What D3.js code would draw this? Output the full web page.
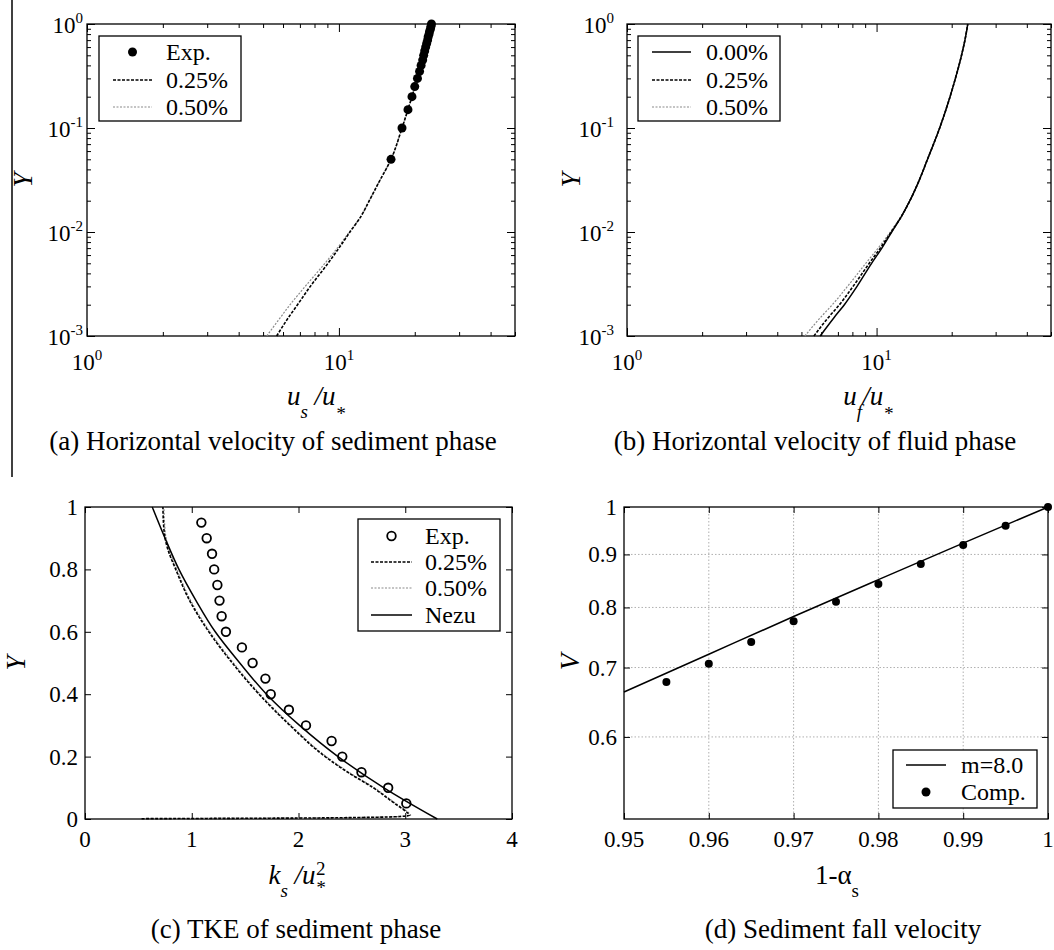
<!DOCTYPE html>
<html>
<head>
<meta charset="utf-8">
<script src="https://cdn.jsdelivr.net/npm/d3@7"></script>
<style>
  body { margin: 0; background: #fff; }
  svg text { font-family: "Liberation Serif", "Times New Roman", serif; }
</style>
</head>
<body>
<svg id="fig" width="1054" height="950"></svg>
<script>
// (a) horizontal velocity of sediment phase
const aExpY = [0.05, 0.1, 0.15, 0.2, 0.25, 0.3, 0.35, 0.4, 0.45, 0.5, 0.55, 0.6, 0.65, 0.7, 0.75, 0.8, 0.85, 0.9, 0.95, 1.0];
const aExpU = [16.1, 17.8, 18.8, 19.5, 20.0, 20.5, 20.9, 21.2, 21.5, 21.7, 21.9, 22.1, 22.3, 22.5, 22.6, 22.8, 22.9, 23.1, 23.2, 23.3];
const aSimY = [0.001, 0.0015, 0.002, 0.003, 0.005, 0.007, 0.01, 0.014, 0.02, 0.03, 0.05, 0.1, 0.2, 0.3, 0.5, 0.7, 1.0];
const aU025 = [5.66, 6.3, 6.85, 7.7, 9.05, 10.0, 11.06, 12.2, 13.2, 14.4, 16.1, 17.8, 19.5, 20.5, 21.7, 22.5, 23.3];
const aU050 = [5.17, 5.85, 6.4, 7.35, 8.8, 9.85, 11.0, 12.2, 13.2, 14.4, 16.1, 17.8, 19.5, 20.5, 21.7, 22.5, 23.3];

// (b) horizontal velocity of fluid phase
const bSimY = [0.001, 0.0015, 0.002, 0.003, 0.005, 0.007, 0.01, 0.014, 0.02, 0.03, 0.05, 0.1, 0.2, 0.3, 0.5, 0.7, 1.0];
const bU000 = [5.94, 6.75, 7.43, 8.35, 9.55, 10.5, 11.5, 12.55, 13.6, 14.7, 16.0, 17.9, 19.7, 20.7, 21.9, 22.6, 23.2];
const bU025 = [5.61, 6.4, 7.1, 8.05, 9.35, 10.35, 11.45, 12.55, 13.6, 14.7, 16.0, 17.9, 19.7, 20.7, 21.9, 22.6, 23.2];
const bU050 = [5.16, 5.95, 6.65, 7.65, 9.05, 10.15, 11.35, 12.5, 13.6, 14.7, 16.0, 17.9, 19.7, 20.7, 21.9, 22.6, 23.2];

// (c) TKE of sediment phase
const cExpY = [0.05, 0.1, 0.15, 0.2, 0.25, 0.3, 0.35, 0.4, 0.45, 0.5, 0.55, 0.6, 0.65, 0.7, 0.75, 0.8, 0.85, 0.9, 0.95];
const cExpK = [3.01, 2.84, 2.59, 2.41, 2.31, 2.07, 1.91, 1.74, 1.69, 1.57, 1.47, 1.32, 1.28, 1.26, 1.24, 1.21, 1.19, 1.14, 1.09];
const cSimY = [0.001, 0.002, 0.003, 0.005, 0.008, 0.012, 0.02, 0.05, 0.1, 0.15, 0.2, 0.3, 0.4, 0.5, 0.6, 0.7, 0.8, 0.86, 0.9, 0.95, 1.0];
const cK025 = [0.53, 1.3, 2.0, 2.6, 2.95, 3.04, 3.02, 2.9, 2.7, 2.46, 2.25, 1.92, 1.63, 1.38, 1.16, 0.98, 0.85, 0.78, 0.75, 0.735, 0.73];
const cK050 = [0.55, 1.3, 2.0, 2.6, 2.96, 3.05, 3.03, 2.91, 2.71, 2.47, 2.26, 1.93, 1.64, 1.39, 1.17, 0.99, 0.86, 0.79, 0.76, 0.745, 0.74];
const cNezuY = [0, 0.1, 0.2, 0.3, 0.4, 0.5, 0.6, 0.7, 0.8, 0.9, 1.0];
const cNezuK = [3.30, 2.80, 2.37, 2.01, 1.70, 1.45, 1.22, 1.04, 0.88, 0.75, 0.63];

// (d) sediment fall velocity
const dLineX = [0.95, 0.96, 0.97, 0.98, 0.99, 1.0];
const dLineV = [0.663, 0.721, 0.784, 0.851, 0.923, 1.0];
const dCompX = [0.955, 0.96, 0.965, 0.97, 0.975, 0.98, 0.985, 0.99, 0.995, 1.0];
const dCompV = [0.678, 0.706, 0.741, 0.776, 0.810, 0.843, 0.881, 0.919, 0.959, 1.0];

// tick labels
const logXTicks = [1, 10];
const logYTicks = [0.001, 0.01, 0.1, 1];
const cXTicks = [0, 1, 2, 3, 4];
const cYTicks = [0, 0.2, 0.4, 0.6, 0.8, 1];
const dXTicks = [0.95, 0.96, 0.97, 0.98, 0.99, 1.0];
const dYTicks = [0.6, 0.7, 0.8, 0.9, 1.0];

const SERIF = '"Liberation Serif", "Times New Roman", serif';
const STY = {
  solid: { stroke: '#000', w: 1.5, dash: null },
  d025: { stroke: '#000', w: 1.6, dash: '3,1.5' },
  d050: { stroke: '#8a8a8a', w: 1.2, dash: '2,1.5' },
};

const svg = d3.select('#fig').attr('font-family', SERIF);

// separator line on the far left
svg.append('line').attr('x1', 12).attr('x2', 12).attr('y1', 0).attr('y2', 477)
  .attr('stroke', '#000').attr('stroke-width', 1.5);

const isDecade = (v) => Math.abs(Math.log10(v) - Math.round(Math.log10(v))) < 1e-9;

function inTicks(g, x, y, xv, yv, len) {
  const [l, r] = x.range(), [b, t] = y.range();
  const put = (axis, tr) => g.append('g').attr('transform', tr)
    .call(axis.tickSize(-len).tickSizeOuter(0).tickFormat(''))
    .call((s) => s.select('.domain').remove())
    .call((s) => s.selectAll('line').attr('stroke', '#000').attr('stroke-width', 1));
  put(d3.axisBottom(x).tickValues(xv), `translate(0,${b})`);
  put(d3.axisTop(x).tickValues(xv), `translate(0,${t})`);
  put(d3.axisLeft(y).tickValues(yv), `translate(${l},0)`);
  put(d3.axisRight(y).tickValues(yv), `translate(${r},0)`);
}

function frame(g, x, y) {
  const [l, r] = x.range(), [b, t] = y.range();
  g.append('rect').attr('x', l).attr('y', t).attr('width', r - l).attr('height', b - t)
    .attr('fill', 'none').attr('stroke', '#000').attr('stroke-width', 1.3);
}

function logBox(g, x, y) {
  const xt = x.ticks(), yt = y.ticks();
  inTicks(g, x, y, xt.filter((v) => !isDecade(v)), yt.filter((v) => !isDecade(v)), 4);
  inTicks(g, x, y, xt.filter(isDecade), yt.filter(isDecade), 8);
  frame(g, x, y);
}

function powText(sel, e) {
  sel.append('tspan').text('10');
  sel.append('tspan').attr('dy', -10).attr('font-size', 15).text(e);
}

function label(g, x, y, anchor, size) {
  return g.append('text').attr('x', x).attr('y', y).attr('text-anchor', anchor)
    .attr('font-family', SERIF).attr('font-size', size);
}

function logLabels(g, x, y, yEnd) {
  const b = y.range()[0];
  logXTicks.forEach((v) => label(g, x(v), b + 34, 'middle', 23).call(powText, Math.round(Math.log10(v))));
  logYTicks.forEach((v) => label(g, yEnd, y(v) + 9, 'end', 23).call(powText, Math.round(Math.log10(v))));
}

function curve(g, x, y, xs, ys, st) {
  const pts = xs.map((v, i) => [x(v), y(ys[i])]);
  g.append('path').attr('d', d3.line().curve(d3.curveMonotoneY)(pts))
    .attr('fill', 'none').attr('stroke', st.stroke).attr('stroke-width', st.w)
    .attr('stroke-dasharray', st.dash);
}

function legend(g, box, rows, s0, s1, tx, items) {
  g.append('rect').attr('x', box[0]).attr('y', box[1]).attr('width', box[2]).attr('height', box[3])
    .attr('fill', '#fff').attr('stroke', '#000').attr('stroke-width', 1.3);
  items.forEach((it, i) => {
    const cy = rows[i];
    if (it.mark === 'dot' || it.mark === 'ring') {
      g.append('circle').attr('cx', (s0 + s1) / 2).attr('cy', cy).attr('r', it.mark === 'dot' ? 4.5 : 4.3)
        .attr('fill', it.mark === 'dot' ? '#000' : 'none').attr('stroke', '#000')
        .attr('stroke-width', it.mark === 'dot' ? 0 : 1.8);
    } else {
      const st = STY[it.mark];
      g.append('line').attr('x1', s0).attr('x2', s1).attr('y1', cy).attr('y2', cy)
        .attr('stroke', st.stroke).attr('stroke-width', st.w).attr('stroke-dasharray', st.dash);
    }
    label(g, tx, cy + 8, 'start', 24).text(it.label);
  });
}

function yTitle(g, cx, cy, t) {
  g.append('text').attr('transform', `translate(${cx},${cy}) rotate(-90)`)
    .attr('text-anchor', 'middle').attr('dy', '0.35em').attr('font-family', SERIF)
    .attr('font-size', 27).attr('font-style', 'italic').text(t);
}

function caption(g, cx, by, t) {
  label(g, cx, by, 'middle', 27).text(t);
}

// ---------- (a) ----------
{
  const g = svg.append('g');
  const x = d3.scaleLog().domain([1, 50]).range([87, 515]);
  const y = d3.scaleLog().domain([0.001, 1]).range([336, 24]);
  logBox(g, x, y);
  logLabels(g, x, y, 83);
  curve(g, x, y, aU050, aSimY, STY.d050);
  curve(g, x, y, aU025, aSimY, STY.d025);
  g.selectAll('circle.exp').data(aExpY).join('circle').attr('class', 'exp')
    .attr('cx', (d, i) => x(aExpU[i])).attr('cy', (d) => y(d)).attr('r', 4.5).attr('fill', '#000');
  legend(g, [99, 36, 142, 85], [52, 80, 107], 113, 152, 166, [
    { mark: 'dot', label: 'Exp.' },
    { mark: 'd025', label: '0.25%' },
    { mark: 'd050', label: '0.50%' },
  ]);
  yTitle(g, 23, 180, 'Y');
  const t = label(g, 316, 405, 'middle', 27).attr('font-style', 'italic');
  t.append('tspan').text('u');
  t.append('tspan').attr('dy', 13).attr('font-size', 19).text('s');
  t.append('tspan').attr('dy', -13).text(' /u');
  t.append('tspan').attr('dy', 15).attr('font-size', 19).text('*');
  caption(g, 273, 450, '(a) Horizontal velocity of sediment phase');
}

// ---------- (b) ----------
{
  const g = svg.append('g');
  const x = d3.scaleLog().domain([1, 50]).range([627, 1051]);
  const y = d3.scaleLog().domain([0.001, 1]).range([336, 24]);
  logBox(g, x, y);
  logLabels(g, x, y, 614);
  curve(g, x, y, bU050, bSimY, STY.d050);
  curve(g, x, y, bU025, bSimY, STY.d025);
  curve(g, x, y, bU000, bSimY, STY.solid);
  legend(g, [638, 36, 142, 85], [52, 80, 107], 652, 691, 706, [
    { mark: 'solid', label: '0.00%' },
    { mark: 'd025', label: '0.25%' },
    { mark: 'd050', label: '0.50%' },
  ]);
  yTitle(g, 571, 180, 'Y');
  const t = label(g, 868, 405, 'middle', 27).attr('font-style', 'italic');
  t.append('tspan').text('u');
  t.append('tspan').attr('dy', 13).attr('font-size', 19).text('f');
  t.append('tspan').attr('dy', -13).text('/u');
  t.append('tspan').attr('dy', 15).attr('font-size', 19).text('*');
  caption(g, 815, 450, '(b) Horizontal velocity of fluid phase');
}

// ---------- (c) ----------
{
  const g = svg.append('g');
  const x = d3.scaleLinear().domain([0, 4]).range([85, 512]);
  const y = d3.scaleLinear().domain([0, 1]).range([819, 507]);
  inTicks(g, x, y, cXTicks, cYTicks, 6);
  frame(g, x, y);
  cXTicks.forEach((v) => label(g, x(v), 847, 'middle', 23).text(d3.format('~g')(v)));
  cYTicks.forEach((v) => label(g, 78, y(v) + 8, 'end', 23).text(d3.format('~g')(v)));
  curve(g, x, y, cK050, cSimY, STY.d050);
  curve(g, x, y, cK025, cSimY, STY.d025);
  curve(g, x, y, cNezuK, cNezuY, STY.solid);
  g.selectAll('circle.exp').data(cExpY).join('circle').attr('class', 'exp')
    .attr('cx', (d, i) => x(cExpK[i])).attr('cy', (d) => y(d)).attr('r', 4.3)
    .attr('fill', 'none').attr('stroke', '#000').attr('stroke-width', 1.8);
  legend(g, [358, 519, 142, 112], [536, 562, 588, 615], 371, 412, 425, [
    { mark: 'ring', label: 'Exp.' },
    { mark: 'd025', label: '0.25%' },
    { mark: 'd050', label: '0.50%' },
    { mark: 'solid', label: 'Nezu' },
  ]);
  yTitle(g, 16, 663, 'Y');
  const t = label(g, 297, 884, 'middle', 27).attr('font-style', 'italic');
  t.append('tspan').text('k');
  t.append('tspan').attr('dy', 13).attr('font-size', 19).text('s');
  t.append('tspan').attr('dy', -13).text(' /u');
  t.append('tspan').attr('dy', 10).attr('font-size', 19).text('*');
  t.append('tspan').attr('dx', -9).attr('dy', -19).attr('font-size', 19).attr('font-style', 'normal').text('2');
  caption(g, 296, 938, '(c) TKE of sediment phase');
}

// ---------- (d) ----------
{
  const g = svg.append('g');
  const x = d3.scaleLinear().domain([0.95, 1.0]).range([624, 1048]);
  const y = d3.scaleLog().domain([0.5, 1.0]).range([819, 507]);
  // dotted grid
  const grid = g.append('g');
  grid.selectAll('line.gx').data(dXTicks.slice(1, -1)).join('line').attr('class', 'gx')
    .attr('x1', (d) => x(d)).attr('x2', (d) => x(d)).attr('y1', 507).attr('y2', 819);
  grid.selectAll('line.gy').data(dYTicks.slice(0, -1)).join('line').attr('class', 'gy')
    .attr('x1', 624).attr('x2', 1048).attr('y1', (d) => y(d)).attr('y2', (d) => y(d));
  grid.selectAll('line').attr('stroke', '#b0b0b0').attr('stroke-width', 1).attr('stroke-dasharray', '1.5,2');
  inTicks(g, x, y, dXTicks, dYTicks, 6);
  frame(g, x, y);
  dXTicks.forEach((v) => label(g, x(v), 847, 'middle', 23).text(d3.format('~g')(v)));
  dYTicks.forEach((v) => label(g, 617, y(v) + 8, 'end', 23).text(d3.format('~g')(v)));
  g.append('path').attr('d', d3.line().x((d) => x(d)).y((d, i) => y(dLineV[i])).curve(d3.curveMonotoneX)(dLineX))
    .attr('fill', 'none').attr('stroke', '#000').attr('stroke-width', 1.5);
  g.selectAll('circle.comp').data(dCompX).join('circle').attr('class', 'comp')
    .attr('cx', (d) => x(d)).attr('cy', (d, i) => y(dCompV[i])).attr('r', 4).attr('fill', '#000');
  legend(g, [893, 750, 144, 58], [765, 792], 906, 946, 961, [
    { mark: 'solid', label: 'm=8.0' },
    { mark: 'dot', label: 'Comp.' },
  ]);
  yTitle(g, 570, 662, 'V');
  const t = label(g, 837, 884, 'middle', 27);
  t.append('tspan').text('1-α');
  t.append('tspan').attr('dy', 13).attr('font-size', 19).text('s');
  caption(g, 843, 938, '(d) Sediment fall velocity');
}
</script>
</body>
</html>
